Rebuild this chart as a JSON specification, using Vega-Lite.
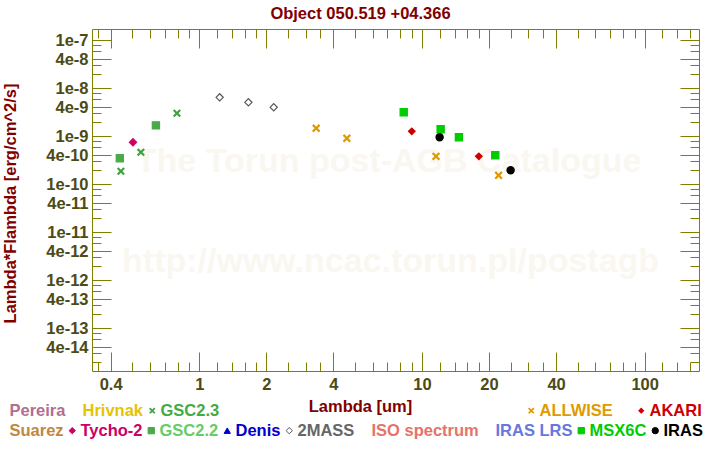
{
  "$schema": "https://vega.github.io/schema/vega-lite/v6.json",
  "width": 607,
  "height": 342,
  "autosize": {"type": "none"},
  "padding": {"left": 92, "top": 29, "right": 21, "bottom": 79},
  "background": "white",
  "title": {
    "text": "Object 050.519 +04.366",
    "font": "Liberation Sans",
    "fontSize": 16.5,
    "fontWeight": "bold",
    "color": "#800000",
    "anchor": "middle",
    "baseline": "alphabetic",
    "dx": -35,
    "dy": 17,
    "offset": 10
  },
  "datasets": {
    "phot": [
      {"src": "GSC2.3", "lam": 0.445, "flux": 1.87e-10},
      {"src": "GSC2.3", "lam": 0.547, "flux": 4.64e-10},
      {"src": "GSC2.3", "lam": 0.794, "flux": 3.01e-9},
      {"src": "GSC2.2", "lam": 0.44, "flux": 3.48e-10},
      {"src": "GSC2.2", "lam": 0.639, "flux": 1.69e-9},
      {"src": "Tycho-2", "lam": 0.504, "flux": 7.5e-10},
      {"src": "2MASS", "lam": 1.235, "flux": 6.49e-9},
      {"src": "2MASS", "lam": 1.662, "flux": 5.11e-9},
      {"src": "2MASS", "lam": 2.159, "flux": 4.02e-9},
      {"src": "ALLWISE", "lam": 3.35, "flux": 1.47e-9},
      {"src": "ALLWISE", "lam": 4.6, "flux": 9.09e-10},
      {"src": "ALLWISE", "lam": 11.56, "flux": 3.83e-10},
      {"src": "ALLWISE", "lam": 22.08, "flux": 1.54e-10},
      {"src": "MSX6C", "lam": 8.28, "flux": 3.16e-9},
      {"src": "MSX6C", "lam": 12.13, "flux": 1.4e-9},
      {"src": "MSX6C", "lam": 14.65, "flux": 9.53e-10},
      {"src": "MSX6C", "lam": 21.34, "flux": 4.02e-10},
      {"src": "AKARI", "lam": 9.0, "flux": 1.27e-9},
      {"src": "AKARI", "lam": 18.0, "flux": 3.83e-10},
      {"src": "IRAS", "lam": 12.0, "flux": 9.53e-10},
      {"src": "IRAS", "lam": 25.0, "flux": 1.96e-10}
    ],
    "marks": [
      {"lam": 7.08, "flux": 2.9e-10, "label": "The Torun post-AGB Catalogue"},
      {"lam": 7.23, "flux": 2.4e-12, "label": "http://www.ncac.torun.pl/postagb"}
    ]
  },
  "layer": [
    {
      "data": {"name": "marks"},
      "mark": {"type": "text", "font": "Liberation Sans", "fontSize": 34, "fontWeight": "bold", "color": "#faf7f1", "align": "center", "baseline": "middle"},
      "encoding": {
        "x": {
          "field": "lam", "type": "quantitative",
          "scale": {"type": "log", "domain": [0.33, 175.3], "nice": false, "zero": false},
          "axis": {
            "orient": "bottom",
            "values": [0.4, 1, 2, 4, 10, 20, 40, 100],
            "format": "~g",
            "tickSize": -19,
            "labelPadding": 24.5,
            "labelFlush": false,
            "labelOverlap": false,
            "title": "Lambda [um]",
            "titleX": 268,
            "titleY": 40,
            "titleBaseline": "alphabetic",
            "titleAlign": "center",
            "titleAnchor": null
          }
        },
        "y": {
          "field": "flux", "type": "quantitative",
          "scale": {"type": "log", "domain": [1.29e-14, 1.72e-7], "nice": false, "zero": false},
          "axis": {
            "orient": "left",
            "values": [1e-7, 4e-8, 1e-8, 4e-9, 1e-9, 4e-10, 1e-10, 4e-11, 1e-11, 4e-12, 1e-12, 4e-13, 1e-13, 4e-14],
            "format": ".0e",
            "tickSize": -19,
            "labelPadding": 23,
            "labelFlush": false,
            "labelOverlap": false,
            "title": "Lambda*Flambda [erg/cm^2/s]",
            "titleAngle": 270,
            "titleX": -77,
            "titleY": 174,
            "titleBaseline": "alphabetic",
            "titleAlign": "center"
          }
        },
        "text": {"field": "label", "type": "nominal"}
      }
    },
    {
      "data": {"name": "phot"},
      "transform": [{"filter": "datum.src == 'GSC2.3'"}],
      "mark": {"type": "point", "filled": true, "size": 64, "opacity": 1},
      "encoding": {
        "x": {
          "field": "lam", "type": "quantitative",
          "scale": {"type": "log", "domain": [0.33, 175.3], "nice": false, "zero": false},
          "axis": {
            "orient": "bottom",
            "values": [0.35, 0.5, 0.6, 0.7, 0.8, 0.9, 1.2, 1.4, 1.6, 1.8, 2.5, 3, 3.5, 5, 6, 7, 8, 9, 12, 14, 16, 18, 25, 30, 35, 50, 60, 70, 80, 90, 120, 140, 160],
            "tickSize": -9, "labels": false, "title": null
          }
        },
        "y": {
          "field": "flux", "type": "quantitative",
          "scale": {"type": "log", "domain": [1.29e-14, 1.72e-7], "nice": false, "zero": false},
          "axis": {
            "orient": "left",
            "values": [8e-8, 6e-8, 3e-8, 2e-8, 8e-9, 6e-9, 3e-9, 2e-9, 8e-10, 6e-10, 3e-10, 2e-10, 8e-11, 6e-11, 3e-11, 2e-11, 8e-12, 6e-12, 3e-12, 2e-12, 8e-13, 6e-13, 3e-13, 2e-13, 8e-14, 6e-14, 3e-14, 2e-14],
            "tickSize": -9, "labels": false, "title": null
          }
        },
        "fill": {
          "field": "src", "type": "nominal",
          "scale": {"domain": ["Pereira", "Hrivnak", "GSC2.3"], "range": ["transparent", "transparent", "#3fa03f"]},
          "legend": {
            "orient": "none", "legendX": -99, "legendY": 373.3, "direction": "horizontal", "title": null,
            "labelFont": "Liberation Sans", "labelFontSize": 16.5, "labelFontWeight": "bold",
            "labelOffset": 0, "columnPadding": 0, "padding": 0, "symbolSize": 40, "symbolStrokeWidth": 1,
            "labelColor": {"expr": "['#b07090','#e6c300','#44aa44'][indexof(['Pereira','Hrivnak','GSC2.3'], datum.value)]"}
          }
        },
        "shape": {
          "field": "src", "type": "nominal",
          "scale": {"domain": ["Pereira", "Hrivnak", "GSC2.3"], "range": ["square", "square", "M-1,-0.62L-0.62,-1L0,-0.38L0.62,-1L1,-0.62L0.38,0L1,0.62L0.62,1L0,0.38L-0.62,1L-1,0.62L-0.38,0Z"]}
        }
      }
    },
    {
      "data": {"name": "phot"},
      "transform": [{"filter": "datum.src == 'ALLWISE' || datum.src == 'AKARI'"}],
      "mark": {"type": "point", "filled": true, "size": 70, "opacity": 1},
      "encoding": {
        "x": {
          "field": "lam", "type": "quantitative",
          "scale": {"type": "log", "domain": [0.33, 175.3], "nice": false, "zero": false},
          "axis": {
            "orient": "top",
            "values": [0.4, 1, 2, 4, 10, 20, 40, 100],
            "tickSize": -19, "labels": false, "title": null
          }
        },
        "y": {
          "field": "flux", "type": "quantitative",
          "scale": {"type": "log", "domain": [1.29e-14, 1.72e-7], "nice": false, "zero": false},
          "axis": {
            "orient": "right",
            "values": [1e-7, 4e-8, 1e-8, 4e-9, 1e-9, 4e-10, 1e-10, 4e-11, 1e-11, 4e-12, 1e-12, 4e-13, 1e-13, 4e-14],
            "tickSize": -19, "labels": false, "title": null
          }
        },
        "fill": {
          "field": "src", "type": "nominal",
          "scale": {"domain": ["ALLWISE", "AKARI"], "range": ["#e09a00", "#cc0000"]},
          "legend": {
            "orient": "none", "legendX": 431, "legendY": 373.3, "direction": "horizontal", "title": null,
            "labelFont": "Liberation Sans", "labelFontSize": 16.5, "labelFontWeight": "bold",
            "labelOffset": 0, "columnPadding": 20, "padding": 0, "symbolSize": 40, "symbolStrokeWidth": 1,
            "labelColor": {"expr": "['#e09a00','#cc0000'][indexof(['ALLWISE','AKARI'], datum.value)]"}
          }
        },
        "shape": {
          "field": "src", "type": "nominal",
          "scale": {"domain": ["ALLWISE", "AKARI"], "range": ["M-1,-0.62L-0.62,-1L0,-0.38L0.62,-1L1,-0.62L0.38,0L1,0.62L0.62,1L0,0.38L-0.62,1L-1,0.62L-0.38,0Z", "diamond"]}
        }
      }
    },
    {
      "data": {"name": "phot"},
      "transform": [{"filter": "indexof(['Tycho-2','GSC2.2','2MASS','MSX6C','IRAS'], datum.src) >= 0"}],
      "mark": {"type": "point", "filled": true, "size": 52, "strokeWidth": 1.2, "opacity": 1},
      "encoding": {
        "x": {
          "field": "lam", "type": "quantitative",
          "scale": {"type": "log", "domain": [0.33, 175.3], "nice": false, "zero": false},
          "axis": {
            "orient": "top",
            "values": [0.35, 0.5, 0.6, 0.7, 0.8, 0.9, 1.2, 1.4, 1.6, 1.8, 2.5, 3, 3.5, 5, 6, 7, 8, 9, 12, 14, 16, 18, 25, 30, 35, 50, 60, 70, 80, 90, 120, 140, 160],
            "tickSize": -9, "labels": false, "title": null
          }
        },
        "y": {
          "field": "flux", "type": "quantitative",
          "scale": {"type": "log", "domain": [1.29e-14, 1.72e-7], "nice": false, "zero": false},
          "axis": {
            "orient": "right",
            "values": [8e-8, 6e-8, 3e-8, 2e-8, 8e-9, 6e-9, 3e-9, 2e-9, 8e-10, 6e-10, 3e-10, 2e-10, 8e-11, 6e-11, 3e-11, 2e-11, 8e-12, 6e-12, 3e-12, 2e-12, 8e-13, 6e-13, 3e-13, 2e-13, 8e-14, 6e-14, 3e-14, 2e-14],
            "tickSize": -9, "labels": false, "title": null
          }
        },
        "fill": {
          "field": "src", "type": "nominal",
          "scale": {
            "domain": ["Suarez", "Tycho-2", "GSC2.2", "Denis", "2MASS", "ISO spectrum", "IRAS LRS", "MSX6C", "IRAS"],
            "range": ["transparent", "#cc0066", "#4aaa4a", "#0000cc", "#ffffff", "transparent", "transparent", "#00cc00", "#000000"]
          },
          "legend": {
            "orient": "none", "legendX": -99, "legendY": 393.3, "direction": "horizontal", "title": null,
            "labelFont": "Liberation Sans", "labelFontSize": 16.5, "labelFontWeight": "bold",
            "labelOffset": 0, "columnPadding": 0, "padding": 0, "symbolSize": 40, "symbolStrokeWidth": 1,
            "labelColor": {"expr": "['#c08840','#cc0066','#66cc66','#0000cc','#666666','#e57368','#6677dd','#00cc00','#000000'][indexof(['Suarez','Tycho-2','GSC2.2','Denis','2MASS','ISO spectrum','IRAS LRS','MSX6C','IRAS'], datum.value)]"}
          }
        },
        "stroke": {
          "field": "src", "type": "nominal",
          "scale": {
            "domain": ["Suarez", "Tycho-2", "GSC2.2", "Denis", "2MASS", "ISO spectrum", "IRAS LRS", "MSX6C", "IRAS"],
            "range": ["transparent", "#cc0066", "#4aaa4a", "#0000cc", "#555555", "transparent", "transparent", "#00cc00", "#000000"]
          }
        },
        "shape": {
          "field": "src", "type": "nominal",
          "scale": {
            "domain": ["Suarez", "Tycho-2", "GSC2.2", "Denis", "2MASS", "ISO spectrum", "IRAS LRS", "MSX6C", "IRAS"],
            "range": ["square", "diamond", "square", "triangle-up", "diamond", "square", "square", "square", "circle"]
          }
        }
      }
    }
  ],
  "resolve": {
    "scale": {"fill": "independent", "shape": "independent", "stroke": "independent"},
    "legend": {"fill": "independent", "shape": "independent", "stroke": "independent"},
    "axis": {"x": "independent", "y": "independent"}
  },
  "config": {
    "view": {"stroke": "#808000", "strokeWidth": 1},
    "axis": {
      "grid": false,
      "domain": false,
      "tickColor": "#808000",
      "tickWidth": 1,
      "labelFont": "Liberation Sans",
      "labelFontSize": 16.5,
      "labelFontWeight": "bold",
      "labelColor": "#4b4b16",
      "titleFont": "Liberation Sans",
      "titleFontSize": 16.5,
      "titleFontWeight": "bold",
      "titleColor": "#800000"
    }
  }
}
